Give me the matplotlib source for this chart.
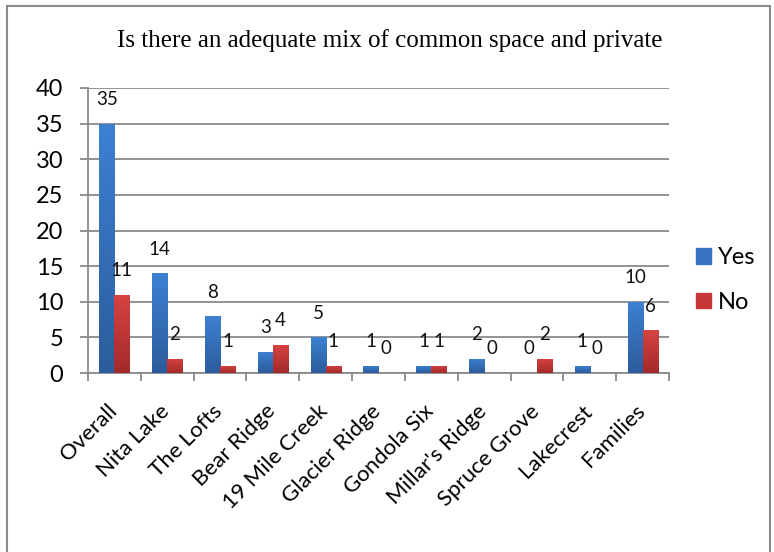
import matplotlib.pyplot as plt
import matplotlib.transforms as mtransforms
from matplotlib.patches import Rectangle
import numpy as np

# data
categories = ['Overall', 'Nita Lake', 'The Lofts', 'Bear Ridge', '19 Mile Creek',
              'Glacier Ridge', 'Gondola Six', "Millar's Ridge", 'Spruce Grove',
              'Lakecrest', 'Families']
yes_vals = [35, 14, 8, 3, 5, 1, 1, 2, 0, 1, 10]
no_vals = [11, 2, 1, 4, 1, 0, 1, 0, 2, 0, 6]
series_names = ['Yes', 'No']
title = 'Is there an adequate mix of common space and private'

plt.rcParams['font.family'] = ['Lato', 'DejaVu Sans']

W, H = 774, 552
fig = plt.figure(figsize=(W / 100, H / 100), dpi=100)
fig.patch.set_facecolor('white')

# outer chart border
fig.patches.append(Rectangle((7 / W, -0.01), 763 / W, 1 - 6 / H + 0.01,
                             transform=fig.transFigure, fill=False,
                             edgecolor='#8a8a8a', lw=1.5))

ax = fig.add_axes([88 / W, 179 / H, (669 - 88) / W, 285 / H])

x = np.arange(len(categories))
bw = 0.285
grey = '#8a8a8a'


def gradient_bars(bars, top, bottom):
    # vertical gradient fill for each bar (Excel style)
    cmap = plt.matplotlib.colors.LinearSegmentedColormap.from_list('g', [bottom, top])
    grad = np.linspace(0, 1, 64).reshape(-1, 1)
    for b in bars:
        if b.get_height() <= 0:
            continue
        b.set_facecolor('none')
        x0, y0 = b.get_x(), b.get_y()
        im = ax.imshow(grad, cmap=cmap, origin='lower', aspect='auto',
                       extent=[x0, x0 + b.get_width(), y0, y0 + b.get_height()],
                       zorder=3)
        im.set_clip_path(b)


bars_yes = ax.bar(x - bw / 2, yes_vals, bw, color='#3a78c6', zorder=3, lw=0)
bars_no = ax.bar(x + bw / 2, no_vals, bw, color='#c93838', zorder=3, lw=0)
gradient_bars(bars_yes, '#3d80d2', '#2c5c9c')
gradient_bars(bars_no, '#d84242', '#a32a2a')

# value labels
for xs, vals in ((x - bw / 2, yes_vals), (x + bw / 2, no_vals)):
    for xi, v in zip(xs, vals):
        ax.annotate(str(v), (xi, v), xytext=(0, 24), textcoords='offset pixels',
                    ha='center', va='center', fontsize=13.5, color='#111111')

ax.set_xlim(-0.5, len(categories) - 0.5)
ax.set_ylim(0, 40)
ax.set_yticks(range(0, 41, 5))
ax.yaxis.grid(True, color=grey, lw=1.3)
ax.set_axisbelow(True)

# category labels drawn as text so they can be nudged like Excel's
ax.set_xticks(x)
ax.set_xticklabels([])
ax.set_xticks(np.arange(-0.5, len(categories), 1), minor=True)
lab_tr = ax.get_xaxis_transform() + mtransforms.ScaledTranslation(
    -8 / 100, -28 / 100, fig.dpi_scale_trans)
for xi, name in zip(x, categories):
    ax.text(xi, 0, name, transform=lab_tr, rotation=45, ha='right', va='top',
            rotation_mode='anchor', fontsize=16)
ax.tick_params(axis='x', which='major', length=0)
ax.tick_params(axis='x', which='minor', length=5.8, width=1.3, color=grey)
ax.tick_params(axis='y', length=5.8, width=1.3, color=grey, labelsize=17, pad=12)

for s in ('top', 'right'):
    ax.spines[s].set_visible(False)
for s in ('left', 'bottom'):
    ax.spines[s].set_color(grey)
    ax.spines[s].set_linewidth(1.3)

fig.text(390 / W, 1 - 41 / H, title, ha='center', va='center',
         fontsize=18, family='Liberation Serif')

# legend
handles = [Rectangle((0, 0), 1, 1, color='#3872c0'), Rectangle((0, 0), 1, 1, color='#c63636')]
fig.legend(handles, series_names, loc='upper left', bbox_to_anchor=(696 / W, 1 - 247 / H),
           frameon=False, fontsize=17, handlelength=0.64, handleheight=0.64,
           handletextpad=0.3, labelspacing=1.0, borderpad=0, borderaxespad=0)

fig.savefig('out.png', dpi=100)
